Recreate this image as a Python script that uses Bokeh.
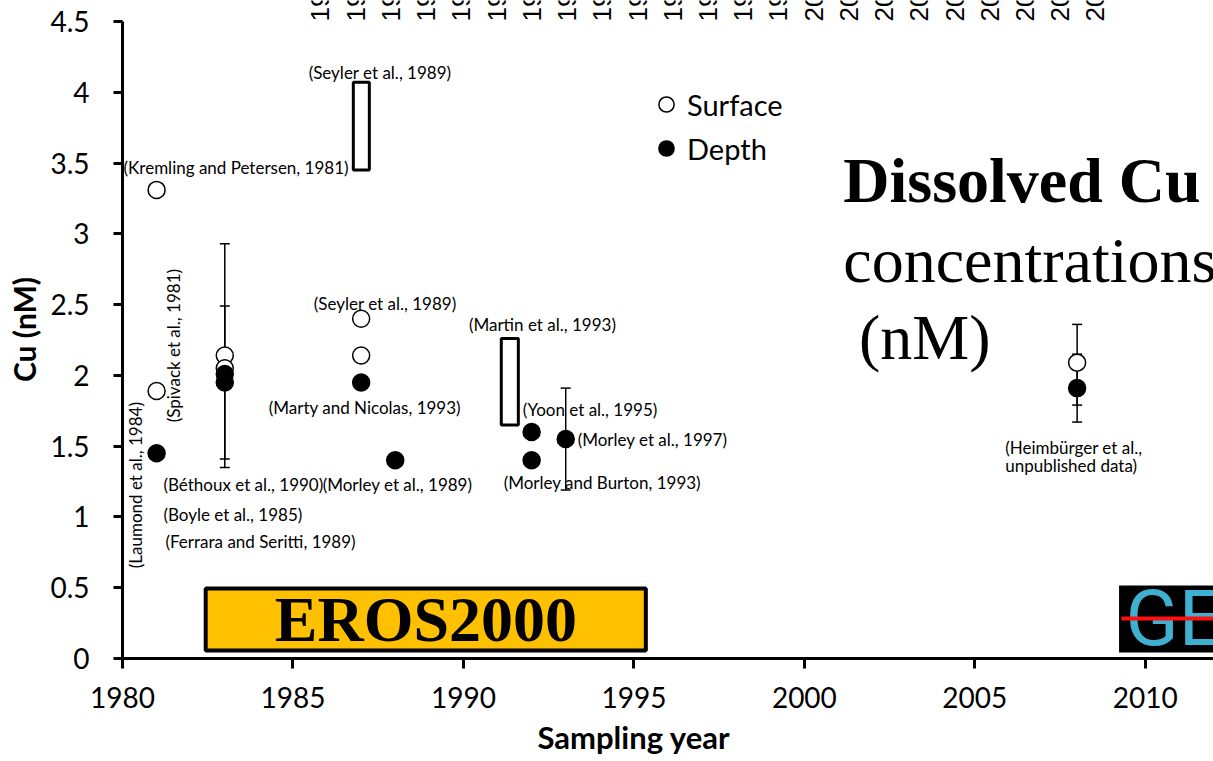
import math
from bokeh.plotting import figure
from bokeh.models import (ColumnDataSource, Whisker, TeeHead, Label, LabelSet, Title,
                          BoxAnnotation, Range1d, FixedTicker, Legend, LegendItem)
from bokeh.core.properties import value
from bokeh.embed import file_html
from bokeh.resources import INLINE

# ---------------- data ----------------
surface_year = [1981, 1981, 1983, 1983, 1987, 1987, 2008]
surface_cu = [3.31, 1.89, 2.14, 2.05, 2.40, 2.14, 2.09]

depth_year = [1981, 1983, 1983, 1987, 1988, 1992, 1992, 1993, 2008]
depth_cu = [1.45, 2.01, 1.95, 1.95, 1.40, 1.60, 1.40, 1.55, 1.91]

err_year = [1983, 1983, 1993, 2008, 2008]
err_lower = [1.35, 1.41, 1.19, 1.67, 1.79]
err_upper = [2.93, 2.49, 1.91, 2.15, 2.36]

range_left = [1986.77, 1991.11]
range_right = [1987.24, 1991.61]
range_bottom = [3.45, 1.65]
range_top = [4.07, 2.26]

ref_text = ["(Kremling and Petersen, 1981)", "(Seyler et al., 1989)", "(Seyler et al., 1989)",
            "(Marty and Nicolas, 1993)", "(Béthoux et al., 1990)", "(Morley et al.,  1989)",
            "(Boyle et al., 1985)", "(Ferrara and Seritti, 1989)", "(Martin et al., 1993)",
            "(Yoon et al., 1995)", "(Morley et al., 1997)", "(Morley and Burton, 1993)",
            "(Heimbürger et al.,", "unpublished data)"]
ref_x = [1980.03, 1985.46, 1985.61, 1984.29, 1981.20, 1985.87, 1981.20, 1981.26,
         1990.16, 1991.74, 1993.35, 1991.18, 2005.89, 2005.89]
ref_y = [3.47, 4.14, 2.51, 1.77, 1.23, 1.23, 1.02, 0.83, 2.36, 1.76, 1.55, 1.24, 1.49, 1.36]

vref_text = ["(Laumond  et al., 1984)", "(Spivack et al., 1981)"]
vref_x = [1980.38, 1981.50]
vref_y = [1.24, 2.21]

top_labels = ["1986", "1987", "1988", "1989", "1990", "1991", "1992", "1993", "1994",
              "1995", "1996", "1997", "1998", "1999", "2000", "2001", "2002", "2003",
              "2004", "2005", "2006", "2007", "2008"]
top_pos = [1986, 1987, 1988, 1989, 1990, 1991, 1992, 1993, 1994, 1995, 1996, 1997,
           1998, 1999, 2000, 2001, 2002, 2003, 2004, 2005, 2006, 2007, 2008]

x_ticks = [1980, 1985, 1990, 1995, 2000, 2005, 2010]
y_ticks = [0, 0.5, 1, 1.5, 2, 2.5, 3, 3.5, 4, 4.5]

LAB = "Lato"

p = figure(width=1213, height=761, output_backend="svg", toolbar_location=None,
           x_range=Range1d(1980, 2012), y_range=Range1d(0, 4.648),
           min_border_left=122, min_border_right=0, min_border_top=0,
           min_border_bottom=103)
p.extra_x_ranges = {"top": Range1d(1980.38, 2011.35)}
p.outline_line_color = None
p.xgrid.visible = False
p.ygrid.visible = False
p.background_fill_color = "white"

for ax in (p.xaxis, p.yaxis):
    ax.axis_line_width = 3
    ax.axis_line_color = "black"
    ax.major_tick_line_width = 3
    ax.major_tick_in = 0
    ax.minor_tick_line_color = None
    ax.major_label_text_color = "black"
    ax.major_label_text_font = LAB

p.xaxis.ticker = FixedTicker(ticks=x_ticks)
p.yaxis.ticker = FixedTicker(ticks=y_ticks)
p.yaxis.bounds = (0, 4.5)
p.xaxis.major_tick_out = 10
p.yaxis.major_tick_out = 9
p.xaxis.major_label_text_font_size = "28px"
p.yaxis.major_label_text_font_size = "28px"
p.xaxis.major_label_standoff = 18
p.yaxis.major_label_standoff = 24

p.yaxis.axis_label = "Cu (nM)"
p.yaxis.axis_label_text_font = LAB
p.yaxis.axis_label_text_font_style = "bold"
p.yaxis.axis_label_text_font_size = "30px"
p.yaxis.axis_label_text_color = "black"
p.yaxis.axis_label_standoff = 5

# x axis title, placed under 1995 as in the reference
p.add_layout(Title(text="Sampling year", align="left", offset=415, standoff=11,
                   text_font=LAB, text_font_style="bold", text_font_size="31px",
                   text_color="black"), "below")

# decorative boxes (below data)
eros = BoxAnnotation(left=1982.44, right=1995.35, bottom=0.056, top=0.494,
                     fill_color="#FFC000", fill_alpha=1, line_color="black",
                     line_alpha=1, line_width=4, level="underlay")
p.add_layout(eros)
p.add_layout(Label(x=1988.9, y=0.275, text="EROS2000", text_align="center",
                   text_baseline="middle", text_font="Liberation Serif",
                   text_font_style="bold", text_font_size="64px", text_color="black"))

ge = BoxAnnotation(left=2009.23, right=2013, bottom=0.042, top=0.516,
                   fill_color="black", fill_alpha=1, line_alpha=0, level="underlay")
p.add_layout(ge)
p.add_layout(Label(x=2009.42, y=0.282, text="GE", text_font="Roboto",
                   text_font_size="78px", text_color="#3FAFD2", text_baseline="middle"))
p.add_layout(BoxAnnotation(left=2009.3, right=2013, bottom=0.268, top=0.296,
                           fill_color="#FF1010", fill_alpha=1, line_alpha=0))

# range rectangles
p.quad(left=range_left, right=range_right, bottom=range_bottom, top=range_top,
       fill_color=None, line_color="black", line_width=3)

# error bars
esrc = ColumnDataSource(dict(x=err_year, lo=err_lower, hi=err_upper))
p.add_layout(Whisker(source=esrc, base="x", lower="lo", upper="hi",
                     line_width=1.5, line_color="black",
                     upper_head=TeeHead(size=10, line_width=1.5),
                     lower_head=TeeHead(size=10, line_width=1.5)))

# points
r_s = p.scatter(surface_year, surface_cu, marker="circle", size=17,
                fill_color="white", line_color="black", line_width=1.5)
r_d = p.scatter(depth_year, depth_cu, marker="circle", size=17,
                fill_color="black", line_color="black", line_width=1.5)

legend = Legend(items=[LegendItem(label="Surface", renderers=[r_s]),
                       LegendItem(label="Depth", renderers=[r_d])],
                location=(525, 491), border_line_color=None, background_fill_alpha=0,
                glyph_width=38, glyph_height=38, label_text_font=LAB,
                label_text_font_size="29px", label_text_color="black", spacing=6,
                padding=0, margin=0, label_standoff=2, label_text_baseline="middle")
p.add_layout(legend)

# reference labels
p.add_layout(LabelSet(source=ColumnDataSource(dict(x=ref_x, y=ref_y, t=ref_text)),
                      x="x", y="y", text="t", text_align="left", text_baseline="middle",
                      text_font=value(LAB), text_font_size="17px", text_color="black"))
p.add_layout(LabelSet(source=ColumnDataSource(dict(x=vref_x, y=vref_y, t=vref_text)),
                      x="x", y="y", text="t", text_align="center", text_baseline="middle",
                      angle=math.pi / 2, text_font=value(LAB), text_font_size="17px",
                      text_color="black"))

# cut-off rotated year labels along the top
p.add_layout(LabelSet(source=ColumnDataSource(dict(x=top_pos, t=top_labels)),
                      x="x", y=4.5, text="t", x_range_name="top", text_align="left",
                      text_baseline="middle", angle=math.pi / 2,
                      text_font=value("Liberation Sans"), text_font_size="26px",
                      text_color="black"))

# big title text
p.add_layout(Label(x=2001.14, y=3.376, text="Dissolved Cu", text_font="Liberation Serif",
                   text_font_style="bold", text_font_size="64px", text_color="black",
                   text_baseline="middle"))
p.add_layout(Label(x=2001.14, y=2.81, text="concentrations", text_font="Liberation Serif",
                   text_font_size="64px", text_color="black", text_baseline="middle"))
p.add_layout(Label(x=2001.6, y=2.267, text="(nM)", text_font="Liberation Serif",
                   text_font_size="64px", text_color="black", text_baseline="middle"))

open("out.html", "w").write(file_html(p, INLINE))
